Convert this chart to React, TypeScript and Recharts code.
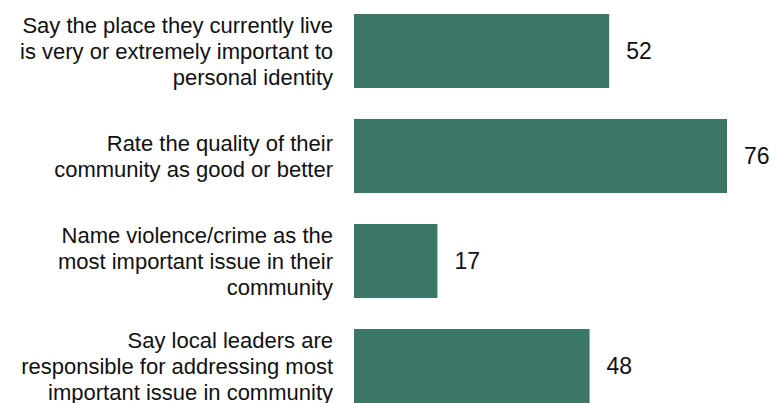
import { BarChart, Bar, XAxis, YAxis, LabelList } from "recharts"

const categories = [
  "Say the place they currently live\nis very or extremely important to\npersonal identity",
  "Rate the quality of their\ncommunity as good or better",
  "Name violence/crime as the\nmost important issue in their\ncommunity",
  "Say local leaders are\nresponsible for addressing most\nimportant issue in community",
]
const values = [52, 76, 17, 48]

const data = categories.map((label, i) => ({ label, value: values[i] }))

const FONT = "'Liberation Sans', Arial, sans-serif"
const BAR_COLOR = "#3a7767"

function CategoryTick({ x, y, payload }: { x?: number; y?: number; payload?: { value: string } }) {
  const lines = String(payload?.value ?? "").split("\n")
  const lineHeight = 26
  const startDy = -((lines.length - 1) / 2) * lineHeight
  return (
    <text x={x} y={y} textAnchor="end" fontFamily={FONT} fontSize={22} fill="#111">
      {lines.map((line, i) => (
        <tspan key={i} x={x} dy={i === 0 ? startDy + 8 : lineHeight}>
          {line}
        </tspan>
      ))}
    </text>
  )
}

export default function App() {
  return (
    <div style={{ position: "absolute", left: 0, top: 0, width: 776, height: 403, overflow: "hidden", background: "#fff" }}>
      <div style={{ position: "relative", top: -2 }}>
        <BarChart
          width={776}
          height={420}
          data={data}
          layout="vertical"
          margin={{ top: 0, right: 49, bottom: 0, left: 0 }}
          barCategoryGap={15}
        >
          <XAxis type="number" domain={[0, 76]} hide />
          <YAxis
            type="category"
            dataKey="label"
            width={354}
            axisLine={false}
            tickLine={false}
            tickSize={0}
            tickMargin={21}
            interval={0}
            tick={<CategoryTick />}
          />
          <Bar dataKey="value" fill={BAR_COLOR} barSize={74} isAnimationActive={false}>
            <LabelList
              dataKey="value"
              position="right"
              offset={17}
              style={{ fontFamily: FONT, fontSize: 23, fill: "#111" }}
            />
          </Bar>
        </BarChart>
      </div>
    </div>
  )
}
